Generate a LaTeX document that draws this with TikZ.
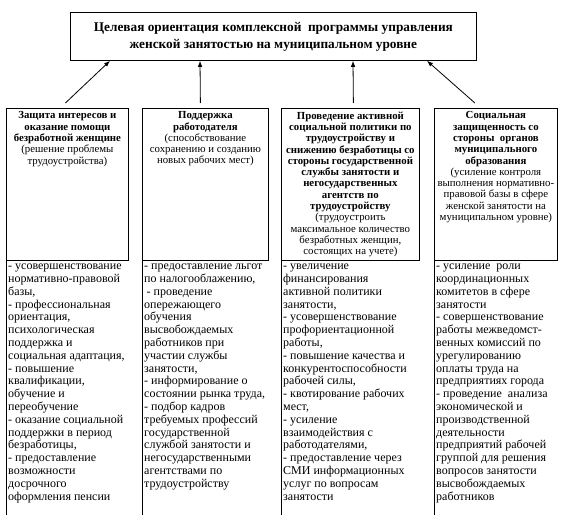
\documentclass[tikz,border=0pt]{standalone}
\usepackage{fontspec}
\setmainfont{Liberation Serif}
\usetikzlibrary{arrows.meta}
\begin{document}
\begin{tikzpicture}[x=1pt,y=-1pt,
  boxframe/.style={draw, line width=0.8pt, inner sep=0pt, anchor=north west},
  headtext/.style={anchor=north, align=center, font=\fontsize{10.8}{11.3}\selectfont, inner sep=0pt},
  listtext/.style={anchor=north west, align=left, font=\fontsize{12}{12.8}\selectfont, inner sep=0pt},
  colline/.style={line width=0.8pt},
  arr/.style={line width=0.8pt, -{Latex[length=6pt,width=4.5pt]}}
]
\useasboundingbox (0,0) rectangle (568,524);

% top box
\node[boxframe, minimum width=406pt, minimum height=48pt] (top) at (70,12) {};
\node[align=center, inner sep=0pt, font=\fontsize{13.3}{17}\selectfont\bfseries] (title) at (top.center)
  {Целевая ориентация комплексной\ \ программы управления\\женской занятостью на муниципальном уровне};

% header boxes
\node[boxframe, minimum width=122pt, minimum height=152pt] (h1) at (6,108) {};
\node[boxframe, minimum width=126pt, minimum height=152pt] (h2) at (142,108) {};
\node[boxframe, minimum width=138pt, minimum height=152pt] (h3) at (281,108) {};
\node[boxframe, minimum width=123pt, minimum height=152pt] (h4) at (434,108) {};

\node[headtext] (t1) at ([yshift=-3.5pt]h1.north)
  {\bfseries Защита интересов и\\\bfseries оказание помощи\\\bfseries безработной женщине\\(решение проблемы\\трудоустройства)};
\node[headtext] (t2) at ([yshift=-3.5pt]h2.north)
  {\bfseries Поддержка\\\bfseries работодателя\\(способствование\\сохранению и созданию\\новых рабочих мест)};
\node[headtext] (t3) at ([yshift=-3.5pt]h3.north)
  {\bfseries Проведение активной\\\bfseries социальной политики по\\\bfseries трудоустройству и\\\bfseries снижению безработицы со\\\bfseries стороны государственной\\\bfseries службы занятости и\\\bfseries негосударственных\\\bfseries агентств по\\\bfseries трудоустройству\\(трудоустроить\\максимальное количество\\безработных женщин,\\состоящих на учете)};
\node[headtext] (t4) at ([yshift=-3.5pt]h4.north)
  {\bfseries Социальная\\\bfseries защищенность со\\\bfseries стороны\ \ органов\\\bfseries муниципального\\\bfseries образования\\(усиление контроля\\выполнения нормативно-\\правовой базы в сфере\\женской занятости на\\муниципальном уровне)};

% arrows
\draw[arr] ([xshift=-2pt,yshift=5pt]h1.north) -- ([xshift=40pt]top.south west);
\draw[arr] ([xshift=-5pt,yshift=5pt]h2.north) -- ([xshift=130pt]top.south west);
\draw[arr] ([xshift=3pt,yshift=5pt]h3.north) -- ([xshift=283pt]top.south west);
\draw[arr] ([xshift=-21pt,yshift=5pt]h4.north) -- ([xshift=357pt]top.south west);

% lower column lines
\coordinate (b1) at (6,515);
\coordinate (b2) at (142,515);
\coordinate (b3) at (281,515);
\coordinate (b4) at (434,515);
\draw[colline] (h1.south west) -- (b1);
\draw[colline] (h2.south west) -- (b2);
\draw[colline] (h3.south west) -- (b3);
\draw[colline] (h4.south west) -- (b4);

% lower lists
\node[listtext] (l1) at ([xshift=2pt,yshift=-3pt]h1.south west)
  {- усовершенствование\\нормативно-правовой\\базы,\\- профессиональная\\ориентация,\\психологическая\\поддержка и\\социальная адаптация,\\- повышение\\квалификации,\\обучение и\\переобучение\\- оказание социальной\\поддержки в период\\безработицы,\\- предоставление\\возможности\\досрочного\\оформления пенсии};
\node[listtext] (l2) at ([xshift=2pt,yshift=-3pt]h2.south west)
  {- предоставление льгот\\по налогооблажению,\\\hspace*{2.5pt}- проведение\\опережающего\\обучения\\высвобождаемых\\работников при\\участии службы\\занятости,\\- информирование о\\состоянии рынка труда,\\- подбор кадров\\требуемых профессий\\государственной\\службой занятости и\\негосударственными\\агентствами по\\трудоустройству};
\node[listtext] (l3) at ([xshift=2pt,yshift=-3pt]h3.south west)
  {- увеличение\\финансирования\\активной политики\\занятости,\\- усовершенствование\\профориентационной\\работы,\\- повышение качества и\\конкурентоспособности\\рабочей силы,\\- квотирование рабочих\\мест,\\- усиление\\взаимодействия с\\работодателями,\\- предоставление через\\СМИ информационных\\услуг по вопросам\\занятости};
\node[listtext] (l4) at ([xshift=2pt,yshift=-3pt]h4.south west)
  {- усиление\ \ роли\\координационных\\комитетов в сфере\\занятости\\- совершенствование\\работы межведомст-\\венных комиссий по\\урегулированию\\оплаты труда на\\предприятиях города\\- проведение\ \ анализа\\экономической и\\производственной\\деятельности\\предприятий рабочей\\группой для решения\\вопросов занятости\\высвобождаемых\\работников};
\end{tikzpicture}
\end{document}
